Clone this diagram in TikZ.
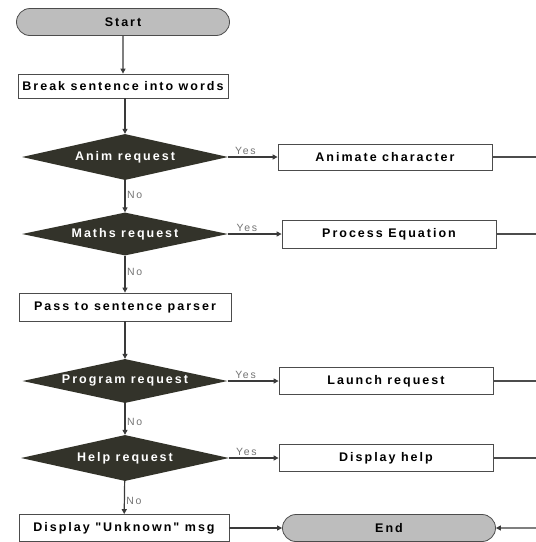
\documentclass[tikz,border=0pt]{standalone}
\usepackage{fontspec}
\setmainfont{Liberation Sans}
\newfontfamily\labfont[LetterSpace=16]{Liberation Sans}
\usetikzlibrary{shapes.geometric,shapes.misc,arrows.meta}
\definecolor{dia}{HTML}{33332A}
\definecolor{pill}{HTML}{BDBDBD}
\definecolor{ln}{HTML}{3A3A3A}
\tikzset{
  x=1pt,y=-1pt,
  every node/.style={font=\labfont\bfseries\fontsize{12.5}{14}\selectfont},
  procbox/.style={draw=black!70,line width=0.8pt,fill=white,rectangle,minimum width=212pt,minimum height=26pt,inner sep=1pt},
  termbox/.style={draw=black!70,line width=0.8pt,fill=pill,rounded rectangle,minimum width=215pt,minimum height=27pt,inner sep=1pt},
  decide/.style={diamond,aspect=4.3,fill=dia,text=white,inner sep=0pt,minimum width=206pt,minimum height=46pt},
  flow/.style={draw=ln,line width=1.2pt,-{Triangle[length=5pt,width=5pt]}},
  outln/.style={draw=black!70,line width=2.8pt},
  yeslab/.style={font=\labfont\fontsize{10.5}{12}\selectfont,text=black!55,inner sep=1.5pt},
}
\begin{document}
\begin{tikzpicture}
\useasboundingbox (0,0) rectangle (536,542);
% left column
\node[termbox] (start) at (123,22) {Start};
\node[procbox,minimum width=210pt,minimum height=24pt] (brk) at (123,86) {Break sentence into words};
\node[decide] (anim) at (125,157) {Anim request};
\node[decide,minimum height=43pt] (maths) at (125,234) {Maths request};
\node[procbox,minimum height=28pt] (pass) at (125,307) {Pass to sentence parser};
\node[decide,minimum width=205pt,minimum height=44pt] (prog) at (125,381) {Program request};
\node[decide,minimum width=208pt] (help) at (125,458) {Help request};
\node[procbox,minimum width=210pt,minimum height=27pt] (disp) at (124,528) {Display "Unknown" msg};
% right column
\node[procbox,minimum width=214pt] (animc) at (385,157) {Animate character};
\node[procbox,minimum width=214pt,minimum height=28pt] (proc) at (389,234) {Process Equation};
\node[procbox,minimum width=214pt,minimum height=27pt] (launch) at (386,381) {Launch request};
\node[procbox,minimum width=214pt,minimum height=27pt] (dhelp) at (386,458) {Display help};
\node[termbox,minimum width=215pt,minimum height=27pt] (end) at (389,528) {End};
% edge coordinates
\coordinate (e1) at (536,157);
\coordinate (e2) at (536,234);
\coordinate (e3) at (536,381);
\coordinate (e4) at (536,458);
\coordinate (e5) at (536,528);
% vertical flow
\draw[flow] (start) -- (brk);
\draw[flow] (brk.south -| anim.north) -- (anim);
\draw[flow] (anim) -- node[yeslab,right,pos=0.45]{No} (maths);
\draw[flow] (maths) -- node[yeslab,right,pos=0.45]{No} (pass);
\draw[flow] (pass) -- (prog);
\draw[flow] (prog) -- node[yeslab,right,pos=0.6]{No} (help);
\draw[flow] (help) -- node[yeslab,right,pos=0.6]{No} (disp);
% yes branches
\draw[flow] (anim.east) -- node[yeslab,above,pos=0.35]{Yes} (animc.west);
\draw[flow] (maths.east) -- node[yeslab,above,pos=0.35]{Yes} (proc.west);
\draw[flow] (prog.east) -- node[yeslab,above,pos=0.35]{Yes} (launch.west);
\draw[flow] (help.east) -- node[yeslab,above,pos=0.35]{Yes} (dhelp.west);
\draw[flow] (disp) -- (end);
\draw[flow] (e5) -- (end);
% outgoing thick lines
\draw[outln] (animc) -- (e1);
\draw[outln] (proc) -- (e2);
\draw[outln] (launch) -- (e3);
\draw[outln] (dhelp) -- (e4);
\end{tikzpicture}
\end{document}
